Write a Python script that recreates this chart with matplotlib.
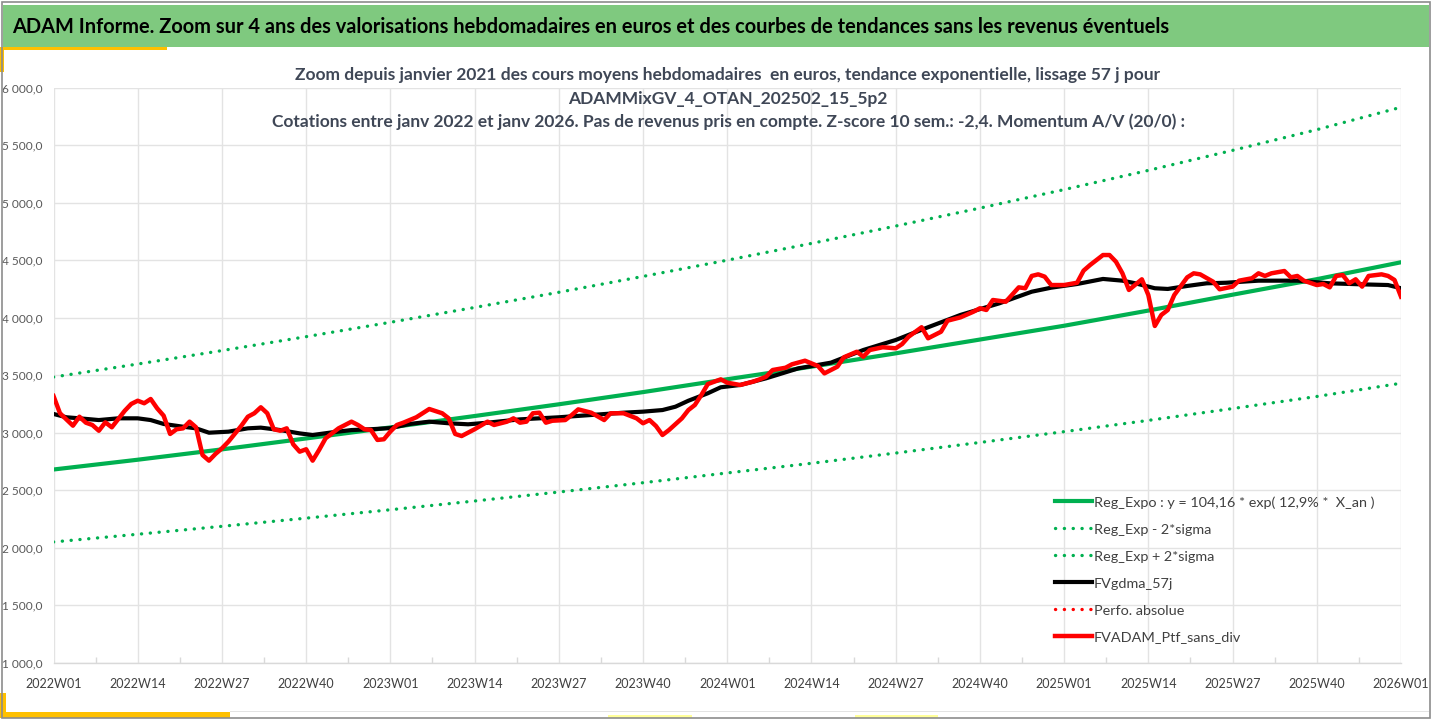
import matplotlib
matplotlib.use("Agg")
import matplotlib.pyplot as plt
from matplotlib.patches import Rectangle
from matplotlib.ticker import FuncFormatter, MultipleLocator

# ---------------- data ----------------
week_labels = ["2022W01", "2022W14", "2022W27", "2022W40",
               "2023W01", "2023W14", "2023W27", "2023W40",
               "2024W01", "2024W14", "2024W27", "2024W40",
               "2025W01", "2025W14", "2025W27", "2025W40", "2026W01"]
label_weeks = [0, 13, 26, 39, 52, 65, 78, 91, 104, 117, 130, 143, 156, 169, 182, 195, 208]

# exponential regression and +/- 2 sigma bands, read at each labelled week
reg_expo = [2680, 2765, 2855, 2950, 3046, 3145, 3247, 3353, 3465,
            3574, 3690, 3810, 3930, 4062, 4200, 4335, 4482]
reg_minus = [2050, 2117, 2186, 2257, 2330, 2406, 2484, 2565, 2650,
             2734, 2823, 2915, 3009, 3107, 3210, 3315, 3430]
reg_plus = [3484, 3597, 3714, 3835, 3960, 4089, 4221, 4359, 4500,
            4646, 4797, 4953, 5114, 5281, 5455, 5635, 5830]

# smoothed (57 days) series
gdma_weeks = [0, 2, 4, 7, 10, 13, 15, 17, 20, 22, 24, 27, 30, 32, 35, 38, 40, 43, 46, 49,
              52, 55, 58, 61, 64, 67, 72, 78, 83, 88, 91, 94, 96, 98, 101, 103, 106, 110,
              115, 120, 125, 130, 135, 140, 146, 151, 154, 158, 162, 165, 167, 170, 172,
              175, 178, 181, 186, 192, 197, 202, 206, 208]
gdma_vals = [3163, 3134, 3125, 3110, 3125, 3125, 3110, 3076, 3052, 3038, 3000, 3009, 3038,
             3044, 3023, 2994, 2980, 3003, 3023, 3030, 3040, 3076, 3096, 3082, 3073, 3087,
             3116, 3134, 3154, 3174, 3183, 3197, 3226, 3278, 3343, 3395, 3415, 3473, 3560,
             3609, 3719, 3806, 3917, 4024, 4125, 4226, 4261, 4293, 4337, 4322, 4299, 4256,
             4250, 4276, 4299, 4304, 4322, 4322, 4299, 4290, 4284, 4256]

# weekly portfolio value without dividends
ptf_weeks = [0, 1, 3, 4, 5, 6, 7, 8, 9, 11, 12, 13, 14, 15, 16, 17, 18, 19, 20, 21, 22, 23,
             24, 25, 26, 27, 29, 30, 31, 32, 33, 34, 35, 36, 37, 38, 39, 40, 41, 42, 44, 45,
             46, 47, 48, 49, 50, 51, 52, 53, 54, 56, 58, 60, 61, 62, 63, 65, 67, 68, 70,
             71, 72, 73, 74, 75, 76, 77, 79, 80, 81, 83, 85, 86, 88, 90, 91, 92, 93, 94,
             95, 97, 98, 99, 100, 101, 103, 104, 106, 108, 109, 110, 111, 113, 114, 116,
             118, 119, 121, 122, 124, 125, 126, 128, 130, 131, 132, 134, 135, 137, 138,
             140, 142, 143, 144, 145, 147, 149, 150, 151, 152, 153, 154, 156, 158, 159,
             160, 162, 163, 164, 165, 166, 168, 169, 170, 171, 172, 173, 175, 176, 177,
             179, 180, 182, 183, 185, 186, 187, 188, 190, 191, 192, 193, 195, 196, 197,
             198, 199, 200, 201, 202, 203, 205, 206, 207, 208]
ptf_vals = [3319, 3169, 3061, 3139, 3087, 3067, 3017, 3090, 3047, 3191, 3250, 3278, 3256,
            3293, 3212, 3148, 2989, 3030, 3038, 3096, 3047, 2806, 2757, 2815, 2864, 2922,
            3061, 3139, 3169, 3221, 3169, 3030, 3017, 3038, 2899, 2835, 2856, 2757, 2850,
            2951, 3038, 3067, 3096, 3067, 3030, 3023, 2937, 2943, 3010, 3067, 3087, 3134,
            3206, 3169, 3125, 2989, 2971, 3030, 3096, 3067, 3096, 3125, 3087, 3096, 3169,
            3174, 3087, 3104, 3110, 3154, 3203, 3174, 3110, 3169, 3169, 3125, 3082, 3110,
            3058, 2980, 3023, 3125, 3197, 3241, 3328, 3423, 3464, 3435, 3415, 3444, 3464,
            3487, 3545, 3565, 3595, 3626, 3580, 3516, 3574, 3656, 3704, 3661, 3719, 3743,
            3734, 3771, 3835, 3917, 3821, 3878, 3974, 4003, 4052, 4082, 4067, 4154, 4139,
            4264, 4256, 4363, 4377, 4357, 4284, 4284, 4304, 4409, 4458, 4545, 4545, 4487,
            4386, 4241, 4334, 4197, 3928, 4024, 4067, 4197, 4351, 4386, 4377, 4313, 4247,
            4270, 4322, 4343, 4386, 4363, 4386, 4406, 4351, 4363, 4322, 4284, 4293, 4264,
            4363, 4371, 4299, 4334, 4270, 4363, 4377, 4363, 4328, 4183]

banner_text = ("ADAM Informe. Zoom sur 4 ans des valorisations hebdomadaires en euros "
               "et des courbes de tendances sans les revenus éventuels")
title_lines = [
    "Zoom depuis janvier 2021 des cours moyens hebdomadaires  en euros, tendance exponentielle, lissage 57 j pour",
    "ADAMMixGV_4_OTAN_202502_15_5p2",
    "Cotations entre janv 2022 et janv 2026. Pas de revenus pris en compte. Z-score 10 sem.: -2,4. Momentum A/V (20/0) :",
]
legend_labels = ["Reg_Expo : y = 104,16 * exp( 12,9% *  X_an )",
                 "Reg_Exp - 2*sigma", "Reg_Exp + 2*sigma",
                 "FVgdma_57j", "Perfo. absolue", "FVADAM_Ptf_sans_div"]

# ---------------- figure ----------------
W, H = 1432, 719
plt.rcParams['font.family'] = ['Lato', 'DejaVu Sans']
fig = plt.figure(figsize=(W / 100, H / 100), dpi=100)
fig.patch.set_facecolor('white')


def rect(x0, y0, x1, y1, **kw):
    fig.patches.append(Rectangle((x0 / W, 1 - y1 / H), (x1 - x0) / W, (y1 - y0) / H,
                                 transform=fig.transFigure, figure=fig, **kw))


# decorations of the dashboard frame
rect(3, 5, 1429, 47, facecolor='#7FC97F', edgecolor='none')
rect(0, 47, 167, 50, facecolor='#FFC000', edgecolor='none')
rect(0, 47, 4, 72, facecolor='#FFC000', edgecolor='none')
rect(230, 710.5, 1429, 711.5, facecolor='#E3E3E3', edgecolor='none')
rect(0, 693, 6, 718, facecolor='#FFC000', edgecolor='none')
rect(0, 712, 230, 718, facecolor='#FFC000', edgecolor='none')
rect(608, 715, 692, 718, facecolor='#FFFF99', edgecolor='none')
rect(855, 715, 938, 718, facecolor='#FFFF99', edgecolor='none')
rect(1.5, 1.5, 1430, 717.5, facecolor='none', edgecolor='#8C8C8C', linewidth=1.2)

fig.text(12 / W, 1 - 27 / H, banner_text, fontsize=14.4, fontweight='bold',
         color='black', ha='left', va='center')

title_color = '#3F4756'
for txt, yc in zip(title_lines, [75, 99, 122]):
    fig.text(728 / W, 1 - yc / H, txt, fontsize=12.5, fontweight='bold',
             color=title_color, ha='center', va='center')

# ---------------- axes ----------------
x0, x1 = 53.5, 1401
y_top, y_bot = 87.7, 662.7
ax = fig.add_axes([x0 / W, 1 - y_bot / H, (x1 - x0) / W, (y_bot - y_top) / H])
ax.set_xlim(0, 208)
ax.set_ylim(1000, 6000)
for s in ['top', 'right', 'left']:
    ax.spines[s].set_visible(False)
ax.spines['bottom'].set_color('#D9D9D9')
ax.spines['bottom'].set_linewidth(1.0)

ax.yaxis.set_major_locator(MultipleLocator(500))
ax.yaxis.set_major_formatter(FuncFormatter(
    lambda v, p: f"{v:,.1f}".replace(",", " ").replace(".", ",")))
ax.set_xticks(label_weeks)
ax.set_xticklabels(week_labels)
ax.set_xticks([w + 6.5 for w in label_weeks[:-1]], minor=True)
ax.tick_params(axis='y', length=0, pad=8, labelsize=8.6, labelcolor='#595959')
ax.tick_params(axis='x', which='major', length=0, pad=11, labelsize=9.0, labelcolor='#404040')
ax.tick_params(axis='x', which='minor', direction='in', length=4, width=1, color='#D9D9D9')
ax.grid(True, which='major', color='#E3E3E3', linewidth=1.0)
ax.set_axisbelow(True)

green = '#00B050'
dot = dict(linestyle=(0, (0.05, 2.6)), dash_capstyle='round')
ax.plot(label_weeks, reg_expo, color=green, linewidth=3.0, solid_joinstyle='round',
        label=legend_labels[0], zorder=3)
ax.plot(label_weeks, reg_minus, color=green, linewidth=2.4, label=legend_labels[1],
        zorder=3, **dot)
ax.plot(label_weeks, reg_plus, color=green, linewidth=2.4, label=legend_labels[2],
        zorder=3, **dot)
ax.plot(gdma_weeks, gdma_vals, color='black', linewidth=3.0, solid_joinstyle='round',
        label=legend_labels[3], zorder=4)
ax.plot([], [], color='#FF0000', linewidth=2.4, label=legend_labels[4], **dot)
ax.plot(ptf_weeks, ptf_vals, color='#FF0000', linewidth=3.2, solid_joinstyle='round',
        label=legend_labels[5], zorder=5)

leg = ax.legend(loc='upper left', bbox_to_anchor=(1055 / W, 1 - 496 / H),
                bbox_transform=fig.transFigure, frameon=False, fontsize=10.4,
                handlelength=2.55, handletextpad=0.15, labelspacing=1.03,
                borderpad=0, borderaxespad=0)
for t in leg.get_texts():
    t.set_color('#404040')

fig.savefig('out.png', dpi=100, facecolor='white')
